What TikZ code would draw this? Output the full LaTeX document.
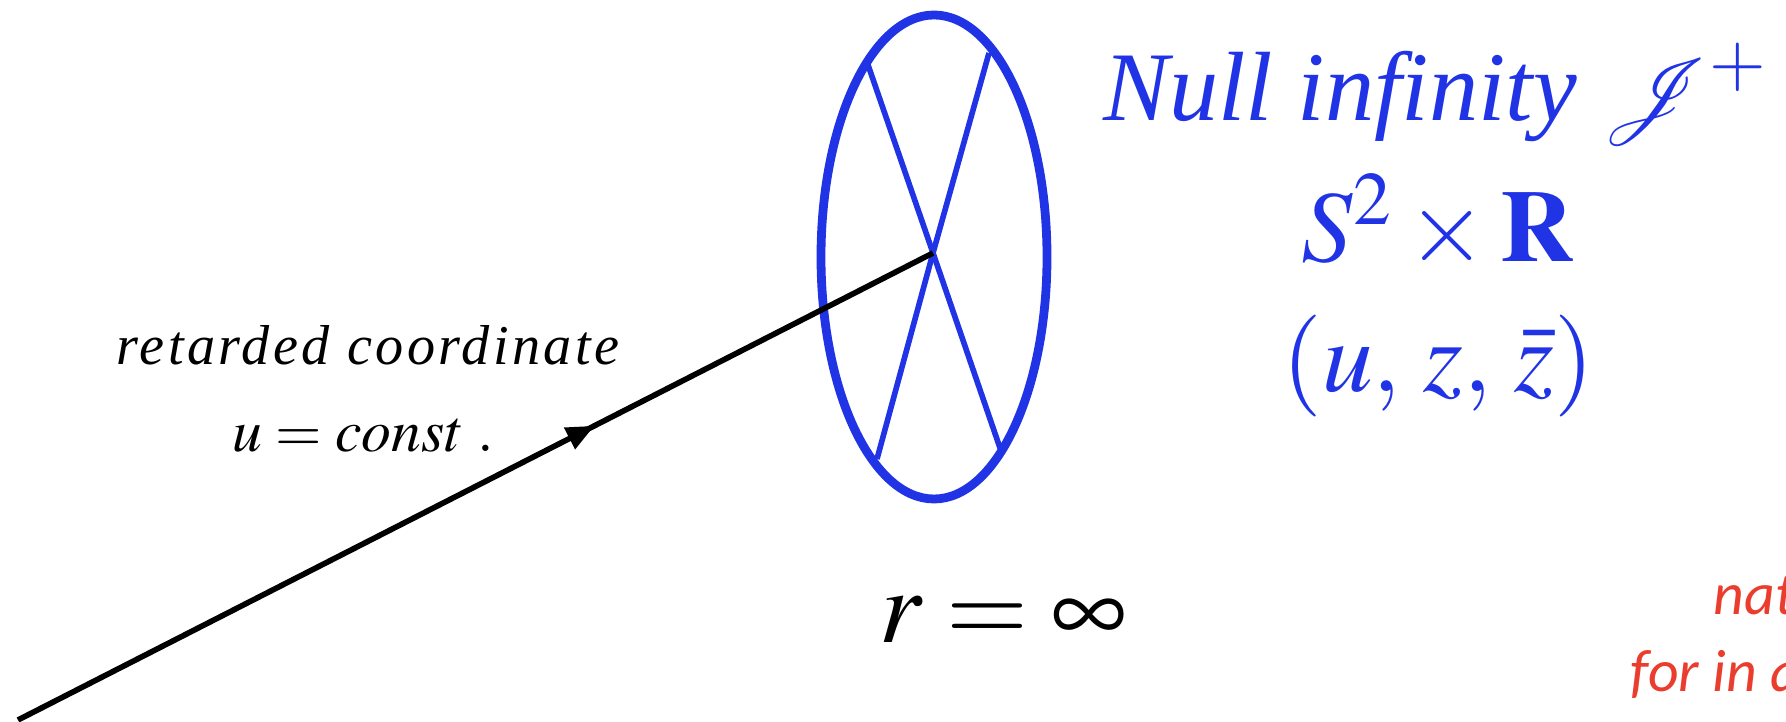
\documentclass[tikz,border=0pt]{standalone}
\usepackage{amsmath,amssymb}
\usepackage{mathptmx}
\usepackage{mathrsfs}
\usepackage{fontspec}
\setmainfont{Liberation Serif}
\newfontfamily\notefont{Carlito}
\usepackage{xcolor}
\definecolor{scriblue}{RGB}{32, 52, 230}
\definecolor{notered}{RGB}{234, 61, 46}
\usepackage{tikz}
\usetikzlibrary{arrows.meta, positioning, calc, decorations.markings}

\begin{document}
\begin{tikzpicture}[>=Stealth,
    ring/.style={draw=scriblue, line width=2.5pt},
    spoke/.style={draw=scriblue, line width=1.6pt},
    ray/.style={draw=black, line width=1.6pt, postaction={decorate},
        decoration={markings, mark=at position 0.63 with {\arrow{Triangle[length=2.8mm, width=2.3mm]}}}},
    textlabel/.style={color=black, anchor=base, inner sep=0pt, font=\fontsize{16}{19}\selectfont},
    bluelabel/.style={color=scriblue, anchor=base, inner sep=0pt, font=\fontsize{29}{35}\selectfont},
    notelabel/.style={color=notered, anchor=base west, inner sep=0pt, font=\notefont\itshape\fontsize{17}{20}\selectfont}]
    \useasboundingbox (0,0) rectangle (17.86,7.22);

    % Celestial sphere at null infinity
    \coordinate (scri) at (9.34,4.65);
    \coordinate (hub) at (9.33,4.69);
    \draw[ring] (scri) ellipse [x radius=1.13, y radius=2.42];
    \foreach \name/\x/\y in {a/8.67/6.60, b/9.89/6.69, c/8.77/2.63, d/10.00/2.74} {
        \coordinate (spoke-\name) at (\x,\y);
        \draw[spoke] (hub) -- (spoke-\name);
    }

    % Outgoing null ray u = const.
    \coordinate (src) at (0.18,0.02);
    \draw[ray] (src) -- (hub);

    % Labels on the left
    \node[textlabel] (retarded) at (3.68,3.57) {\addfontfeature{LetterSpace=6}\itshape retarded coordinate};
    \node[textlabel, font=\fontsize{17}{20}\selectfont] (uconst) at (3.63,2.70) {$u = const\;.$};
    \node[textlabel, font=\fontsize{30}{35}\selectfont] (rinf) at (10.03,0.79) {$r = \infty$};

    % Labels for scri+
    \node[bluelabel, font=\fontsize{28}{34}\selectfont] (nullinf) at (14.36,6.01) {\textit{Null infinity} $\mathscr{J}^+$};
    \node[bluelabel] (topology) at (14.38,4.60) {$S^2 \times \mathbf{R}$};
    \node[bluelabel] (coords) at (14.38,3.30) {$(u,\, z,\, \bar{z})$};

    % Red note (cut off at the edge)
    \node[notelabel] (notetop) at (17.13,1.07) {nat};
    \node[notelabel] (notebot) at (16.30,0.30) {for in a};

\end{tikzpicture}
\end{document}
